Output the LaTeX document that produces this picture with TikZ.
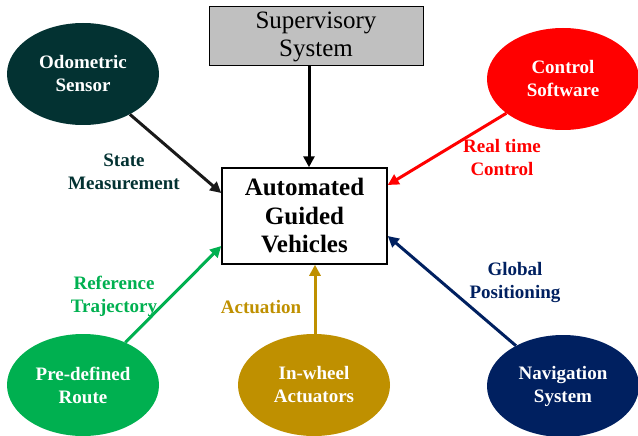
\documentclass[tikz,border=0pt]{standalone}
\usepackage{fontspec}
\setmainfont{Liberation Serif}
\usetikzlibrary{shapes.geometric,arrows.meta}
\definecolor{teal}{HTML}{033232}
\definecolor{redc}{HTML}{FF0000}
\definecolor{greenc}{HTML}{00B050}
\definecolor{goldc}{HTML}{BF9000}
\definecolor{navyc}{HTML}{002060}
\definecolor{grayc}{HTML}{C0C0C0}
\begin{document}
\begin{tikzpicture}[x=1pt,y=-1pt,
  blob/.style={ellipse,minimum width=152pt,minimum height=102pt,inner sep=0pt,
    text=white,font=\fontsize{19}{23}\selectfont\bfseries,align=center},
  flow/.style={line width=3pt,-{Triangle[length=11pt,width=11pt]}},
  tag/.style={font=\fontsize{19}{23}\selectfont\bfseries,align=center}]
\useasboundingbox (0,0) rectangle (638,436);
% central block and supervisor
\node[draw,line width=1.5pt,minimum width=165pt,minimum height=96pt,align=center,
  font=\fontsize{25}{28.5}\selectfont\bfseries] (agv) at (304.5,216) {Automated\\Guided\\Vehicles};
\node[draw,fill=grayc,line width=1pt,minimum width=214pt,minimum height=59pt,align=center,
  font=\fontsize{25}{28}\selectfont] (sup) at (316,36.5) {Supervisory\\System};
% surrounding sources
\node[blob,fill=teal] (odo) at (83,74) {Odometric\\Sensor};
\node[blob,fill=redc] (ctl) at (563,79) {Control\\Software};
\node[blob,fill=greenc] (route) at (83,385) {Pre-defined\\Route};
\node[blob,fill=goldc] (act) at (314,385) {In-wheel\\Actuators};
\node[blob,fill=navyc] (nav) at (563,386) {Navigation\\System};
% connectors
\draw[flow] (sup.south -| 309,0) -- (agv.north -| 309,0);
\draw[flow,black!90] (odo) -- (agv.west |- 0,193);
\draw[flow,redc] (ctl) -- (agv.east |- 0,185);
\draw[flow,greenc] (route) -- (agv.west |- 0,246);
\draw[flow,goldc] (act.north -| 315,0) -- (agv.south -| 315,0);
\draw[flow,navyc] (nav) -- (agv.east |- 0,236);
% connector labels
\node[tag,text=teal] (l1) at (124,172) {State\\Measurement};
\node[tag,text=redc] (l2) at (502,158) {Real time\\Control};
\node[tag,text=greenc] (l3) at (114,296) {Reference\\Trajectory};
\node[tag,text=goldc] (l4) at (261,307) {Actuation};
\node[tag,text=navyc] (l5) at (515,283) {Global\\Positioning};
\end{tikzpicture}
\end{document}
